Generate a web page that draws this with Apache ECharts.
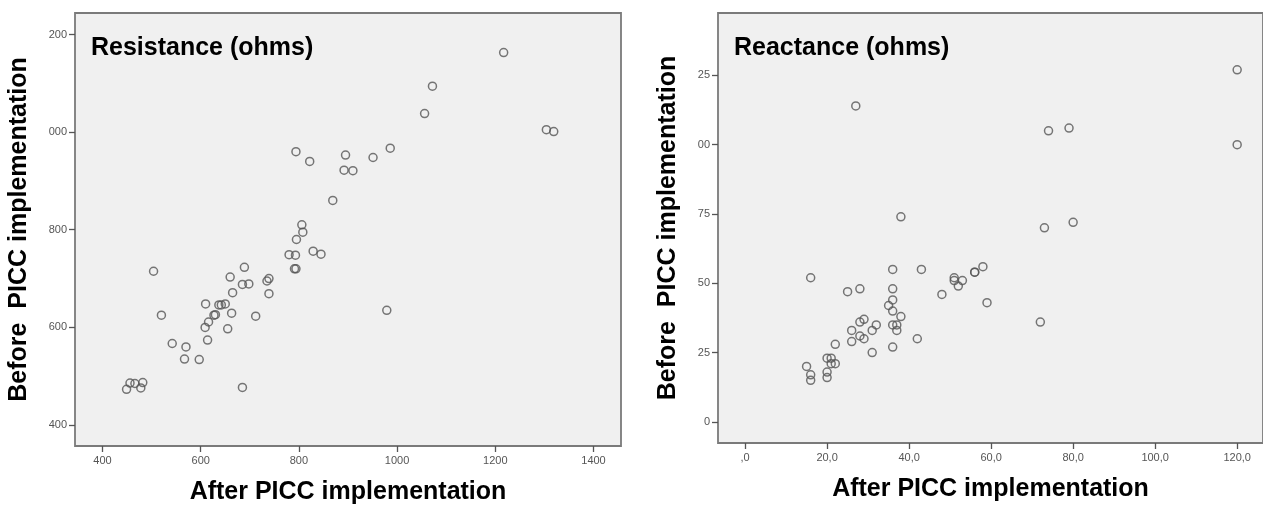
<!DOCTYPE html>
<html>
<head>
<meta charset="utf-8">
<script src="https://cdn.jsdelivr.net/npm/echarts@6/dist/echarts.min.js"></script>
<style>
  html, body { margin: 0; padding: 0; background: #fff; }
  #chart { width: 1263px; height: 511px; }
</style>
</head>
<body>
<div id="chart"></div>
<script>
// Resistance (ohms): after / before PICC implementation
const resAfter = [1217, 1072, 1056, 1304, 1319, 986, 794, 822, 895, 951, 892, 910, 869, 806, 808, 795,
    780, 793, 829, 845, 791, 794, 689, 504, 660, 739, 735, 685, 698, 665, 739, 610, 637, 642, 650, 663,
    712, 520, 627, 630, 616, 609, 655, 614, 542, 570, 567, 597, 979, 685, 449, 456, 466, 478, 482];
const resBefore = [1163, 1094, 1038, 1005, 1001, 967, 960, 940, 953, 948, 922, 921, 860, 810, 795, 780,
    749, 748, 756, 750, 720, 720, 723, 715, 703, 700, 695, 688, 689, 671, 669, 648, 646, 646, 648, 629,
    623, 625, 625, 626, 611, 600, 597, 574, 567, 560, 535, 534, 635, 477, 473, 486, 485, 476, 487];

// Reactance (ohms): after / before PICC implementation
const reaAfter = [120, 120, 27, 74, 79, 38, 73, 80, 16, 36, 43, 58, 56, 56, 51, 51, 53, 52, 28, 36, 25,
    48, 59, 36, 35, 36, 38, 29, 28, 72, 32, 36, 37, 26, 31, 37, 28, 29, 42, 26, 22, 36, 31, 20, 21, 21,
    22, 15, 20, 16, 20, 16];
const reaBefore = [127, 100, 114, 105, 106, 74, 70, 72, 52, 55, 55, 56, 54, 54, 52, 51, 51, 49, 48, 48, 47,
    46, 43, 44, 42, 40, 38, 37, 36, 36, 35, 35, 35, 33, 33, 33, 31, 30, 30, 29, 28, 27, 25, 23, 23, 21,
    21, 20, 18, 17, 16, 15];

// tick labels as printed (leading digits clipped in the original)
const resXTicks = [400, 600, 800, 1000, 1200, 1400];
const resXLabels = ['400', '600', '800', '1000', '1200', '1400'];
const resYTicks = [400, 600, 800, 1000, 1200];
const resYLabels = ['400', '600', '800', '000', '200'];
const reaXTicks = [0, 20, 40, 60, 80, 100, 120];
const reaXLabels = [',0', '20,0', '40,0', '60,0', '80,0', '100,0', '120,0'];
const reaYTicks = [0, 25, 50, 75, 100, 125];
const reaYLabels = ['0', '25', '50', '75', '00', '25'];

const font = "'Liberation Sans', Arial, sans-serif";

function labelFor(ticks, labels) {
    return function(v) {
        const i = ticks.findIndex(t => Math.abs(t - v) < 1e-6);
        return i >= 0 ? labels[i] : '';
    };
}

function valueAxis(idx, min, max, ticks, labels, name, nameGap, isY) {
    return {
        type: 'value',
        gridIndex: idx,
        min: min,
        max: max,
        name: name,
        nameLocation: 'middle',
        nameGap: nameGap,
        nameTextStyle: { fontFamily: font, fontSize: 25, fontWeight: 'bold', color: '#000' },
        axisLine: { show: false, onZero: false },
        splitLine: { show: false },
        axisTick: {
            show: true,
            inside: false,
            length: 6,
            customValues: ticks,
            lineStyle: { color: '#555', width: 1.3 }
        },
        axisLabel: {
            customValues: ticks,
            formatter: labelFor(ticks, labels),
            fontFamily: font,
            fontSize: 11,
            color: '#555',
            margin: isY ? 8 : 9,
            showMinLabel: true,
            showMaxLabel: true
        }
    };
}

const chart = echarts.init(document.getElementById('chart'));

const option = {
    animation: false,
    backgroundColor: '#fff',
    title: [
        {
            text: 'Resistance (ohms)',
            left: 91, top: 36, padding: 0,
            textStyle: { fontFamily: font, fontSize: 25, fontWeight: 'bold', color: '#000' }
        },
        {
            text: 'Reactance (ohms)',
            left: 734, top: 36, padding: 0,
            textStyle: { fontFamily: font, fontSize: 25, fontWeight: 'bold', color: '#000' }
        }
    ],
    grid: [
        { left: 75, top: 13, width: 546, height: 433, show: true,
          backgroundColor: '#f0f0f0', borderColor: '#7a7a7a', borderWidth: 1.8 },
        { left: 718, top: 13, width: 546, height: 430, show: true,
          backgroundColor: '#f0f0f0', borderColor: '#7a7a7a', borderWidth: 1.8 }
    ],
    xAxis: [
        valueAxis(0, 344, 1456, resXTicks, resXLabels, 'After PICC implementation', 34, false),
        valueAxis(1, -6.6, 126.3, reaXTicks, reaXLabels, 'After PICC implementation', 34, false)
    ],
    yAxis: [
        valueAxis(0, 357, 1244, resYTicks, resYLabels, 'Before  PICC implementation', 43, true),
        valueAxis(1, -7.6, 147.5, reaYTicks, reaYLabels, 'Before  PICC implementation', 37, true)
    ],
    series: [
        {
            type: 'scatter',
            xAxisIndex: 0, yAxisIndex: 0,
            data: resAfter.map((v, i) => [v, resBefore[i]]),
            symbol: 'circle',
            symbolSize: 8,
            itemStyle: { color: 'rgba(0,0,0,0)', borderColor: '#555', borderWidth: 1.5 }
        },
        {
            type: 'scatter',
            xAxisIndex: 1, yAxisIndex: 1,
            data: reaAfter.map((v, i) => [v, reaBefore[i]]),
            symbol: 'circle',
            symbolSize: 8,
            itemStyle: { color: 'rgba(0,0,0,0)', borderColor: '#555', borderWidth: 1.5 }
        }
    ]
};
chart.setOption(option);
</script>
</body>
</html>
